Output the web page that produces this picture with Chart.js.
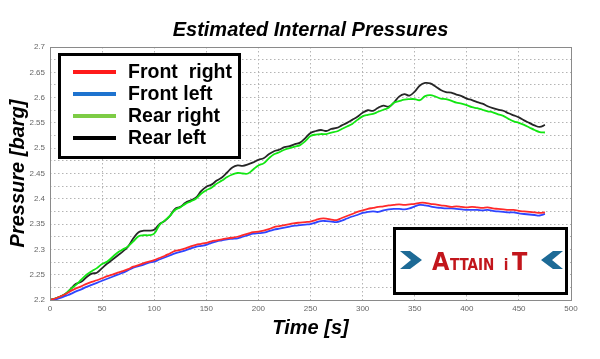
<!DOCTYPE html>
<html>
<head>
<meta charset="utf-8">
<script src="https://cdn.jsdelivr.net/npm/chart.js@4"></script>
<style>
  html, body { margin: 0; padding: 0; background: #fff; }
  #wrap { width: 600px; height: 359px; }
</style>
</head>
<body>
<div id="wrap"><canvas id="pressureChart"></canvas></div>
<script>
// time axis [s]
const times = [0,5,10,15,20,25,30,35,40,45,50,55,60,65,70,75,80,85,90,95,
  100,105,110,115,120,125,130,135,140,145,150,155,160,165,170,175,180,185,190,195,
  200,205,210,215,220,225,230,235,240,245,250,255,260,265,270,275,280,285,290,295,
  300,305,310,315,320,325,330,335,340,345,350,355,360,365,370,375,380,385,390,395,
  400,405,410,415,420,425,430,435,440,445,450,455,460,465,470,475];

const frontRight = [2.200,2.203,2.207,2.212,2.218,2.223,2.227,2.232,2.236,2.239,
  2.243,2.247,2.250,2.254,2.257,2.261,2.266,2.269,2.273,2.276,
  2.279,2.283,2.287,2.292,2.297,2.299,2.302,2.306,2.309,2.311,
  2.313,2.316,2.318,2.320,2.322,2.323,2.325,2.328,2.331,2.334,
  2.335,2.337,2.340,2.344,2.346,2.348,2.350,2.352,2.353,2.354,
  2.355,2.358,2.361,2.361,2.359,2.358,2.362,2.366,2.370,2.374,
  2.377,2.380,2.382,2.384,2.385,2.387,2.388,2.389,2.388,2.389,
  2.390,2.392,2.392,2.390,2.389,2.387,2.386,2.384,2.385,2.384,
  2.383,2.384,2.383,2.382,2.383,2.381,2.380,2.379,2.378,2.378,
  2.376,2.375,2.374,2.373,2.372,2.373];

const frontLeft = [2.200,2.201,2.204,2.208,2.212,2.217,2.221,2.226,2.230,2.234,
  2.238,2.242,2.246,2.250,2.254,2.259,2.264,2.267,2.270,2.274,
  2.276,2.280,2.284,2.288,2.292,2.295,2.298,2.302,2.305,2.307,
  2.309,2.313,2.316,2.318,2.320,2.321,2.322,2.325,2.328,2.331,
  2.332,2.333,2.336,2.339,2.341,2.343,2.345,2.347,2.348,2.349,
  2.350,2.353,2.356,2.356,2.355,2.354,2.357,2.361,2.365,2.368,
  2.372,2.374,2.375,2.374,2.377,2.379,2.380,2.380,2.379,2.381,
  2.385,2.388,2.387,2.385,2.383,2.382,2.381,2.381,2.380,2.379,
  2.378,2.378,2.378,2.377,2.378,2.376,2.375,2.374,2.373,2.373,
  2.371,2.370,2.369,2.368,2.367,2.370];

const rearRight = [2.200,2.203,2.207,2.213,2.222,2.230,2.240,2.250,2.257,2.263,
  2.271,2.276,2.285,2.294,2.300,2.306,2.316,2.326,2.328,2.328,
  2.331,2.348,2.357,2.366,2.378,2.383,2.390,2.395,2.400,2.410,
  2.417,2.422,2.430,2.436,2.443,2.448,2.451,2.450,2.450,2.458,
  2.466,2.470,2.480,2.488,2.492,2.497,2.500,2.503,2.506,2.514,
  2.524,2.527,2.528,2.528,2.531,2.533,2.538,2.543,2.548,2.556,
  2.563,2.566,2.568,2.572,2.576,2.580,2.590,2.593,2.596,2.597,
  2.597,2.595,2.603,2.605,2.602,2.598,2.597,2.594,2.590,2.588,
  2.585,2.581,2.579,2.576,2.573,2.571,2.567,2.564,2.558,2.553,
  2.550,2.546,2.541,2.536,2.532,2.531];

const rearLeft = [2.200,2.203,2.207,2.212,2.222,2.232,2.236,2.245,2.252,2.254,
  2.263,2.272,2.280,2.288,2.296,2.306,2.322,2.334,2.337,2.337,
  2.339,2.350,2.356,2.366,2.380,2.384,2.392,2.397,2.402,2.415,
  2.424,2.428,2.436,2.442,2.452,2.462,2.466,2.465,2.468,2.472,
  2.477,2.480,2.488,2.494,2.497,2.502,2.504,2.508,2.511,2.520,
  2.530,2.534,2.536,2.534,2.538,2.540,2.545,2.550,2.556,2.562,
  2.570,2.575,2.574,2.580,2.584,2.582,2.590,2.602,2.607,2.604,
  2.612,2.624,2.629,2.628,2.622,2.615,2.611,2.610,2.606,2.603,
  2.598,2.595,2.591,2.588,2.583,2.579,2.576,2.574,2.569,2.565,
  2.561,2.555,2.550,2.545,2.542,2.546];

const seriesNames = ['Front  right', 'Front left', 'Rear right', 'Rear left'];
const lineColors = ['#ff2a2a', '#2f45ff', '#12e612', '#262626'];
const legendColors = ['#ff1a1a', '#1e73cf', '#7dcc45', '#000000'];

const xTicks = [0, 50, 100, 150, 200, 250, 300, 350, 400, 450, 500];
const chartTitle = 'Estimated Internal Pressures';

const toPoints = vals => vals.map((v, i) => ({ x: times[i], y: v }));
const FONT = '"Liberation Sans", Arial, sans-serif';

// title, matlab style frame, legend box and logo box
const overlay = {
  id: 'overlay',
  afterDatasetsDraw(chart) {
    const c = chart.ctx;
    const a = chart.chartArea;
    c.save();
    // frame
    c.strokeStyle = '#8a8a8a';
    c.lineWidth = 1;
    c.strokeRect(a.left + 0.5, a.top + 0.5, a.right - a.left, a.bottom - a.top);

    // title centred over the plot
    c.fillStyle = '#000';
    c.font = 'italic bold 20px ' + FONT;
    c.textAlign = 'center';
    c.textBaseline = 'middle';
    c.fillText(chartTitle, (a.left + a.right) / 2, 30);
    c.textAlign = 'left';

    // legend
    c.fillStyle = '#fff';
    c.fillRect(59, 54, 180, 103);
    c.strokeStyle = '#000';
    c.lineWidth = 3;
    c.strokeRect(59.5, 54.5, 180, 103);
    c.font = 'bold 19.5px ' + FONT;
    const rows = [72, 94, 116, 138];
    seriesNames.forEach((name, i) => {
      c.strokeStyle = legendColors[i];
      c.lineWidth = 4;
      c.beginPath();
      c.moveTo(73, rows[i]);
      c.lineTo(116, rows[i]);
      c.stroke();
      c.fillStyle = '#000';
      c.fillText(name, 128, rows[i] + 1);
    });

    // logo
    c.fillStyle = '#fff';
    c.fillRect(394, 228, 172, 65);
    c.strokeStyle = '#000';
    c.lineWidth = 3;
    c.strokeRect(394.5, 228.5, 172, 65);
    c.fillStyle = '#1d6a96';
    c.beginPath();
    c.moveTo(400, 251); c.lineTo(410, 251); c.lineTo(422, 260);
    c.lineTo(410, 269); c.lineTo(400, 269); c.lineTo(411, 260);
    c.closePath(); c.fill();
    c.beginPath();
    c.moveTo(563, 251); c.lineTo(553, 251); c.lineTo(541, 260);
    c.lineTo(553, 269); c.lineTo(563, 269); c.lineTo(552, 260);
    c.closePath(); c.fill();
    c.fillStyle = '#c2161c';
    c.textBaseline = 'alphabetic';
    c.font = 'bold 25px "DejaVu Sans Condensed", "DejaVu Sans", sans-serif';
    c.fillText('A', 432, 270);
    c.font = 'bold 15px "DejaVu Sans Condensed", "DejaVu Sans", sans-serif';
    c.fillText('TTAIN  i', 450, 270);
    c.font = 'bold 25px "DejaVu Sans Condensed", "DejaVu Sans", sans-serif';
    c.fillText('T', 512, 270);
    c.restore();
  }
};

const gridStyle = {
  color: '#b4b4b4',
  lineWidth: 1,
  drawTicks: false
};
const dotted = { display: false, dash: [1.5, 2.5] };

new Chart(document.getElementById('pressureChart'), {
  type: 'line',
  data: {
    datasets: seriesNames.map((name, i) => ({
      label: name,
      data: toPoints([frontRight, frontLeft, rearRight, rearLeft][i]),
      borderColor: lineColors[i],
      borderWidth: 1.8,
      pointRadius: 0,
      tension: 0.4,
      fill: false
    }))
  },
  options: {
    responsive: true,
    maintainAspectRatio: false,
    animation: false,
    layout: { padding: { left: 0, right: 29, top: 47, bottom: 0 } },
    scales: {
      x: {
        type: 'linear',
        min: 0,
        max: 500,
        afterBuildTicks: s => { s.ticks = xTicks.map(v => ({ value: v })); },
        afterFit: s => { s.height = 59; },
        grid: gridStyle,
        border: dotted,
        ticks: {
          font: { size: 8, family: 'Arial, "Liberation Sans"' },
          color: '#666',
          padding: 4,
          maxRotation: 0
        },
        title: {
          display: true,
          text: 'Time [s]',
          color: '#000',
          font: { size: 20, weight: 'bold', style: 'italic', family: FONT },
          padding: { top: 0, bottom: 19 }
        }
      },
      y: {
        min: 2.2,
        max: 2.7,
        afterFit: s => { s.width = 50; },
        grid: gridStyle,
        border: dotted,
        ticks: {
          stepSize: 0.025,
          autoSkip: false,
          font: { size: 8, family: 'Arial, "Liberation Sans"' },
          color: '#666',
          padding: 5,
          callback: v => {
            const k = Math.round(v * 1000);
            return k % 50 === 0 ? String(+(k / 1000).toFixed(2)) : '';
          }
        },
        title: {
          display: true,
          text: 'Pressure [barg]',
          color: '#000',
          font: { size: 20, weight: 'bold', style: 'italic', family: FONT },
          padding: { top: 6, bottom: 0 }
        }
      }
    },
    plugins: {
      legend: { display: false },
      tooltip: { enabled: false },
      title: { display: false }
    }
  },
  plugins: [overlay]
});
</script>
</body>
</html>
